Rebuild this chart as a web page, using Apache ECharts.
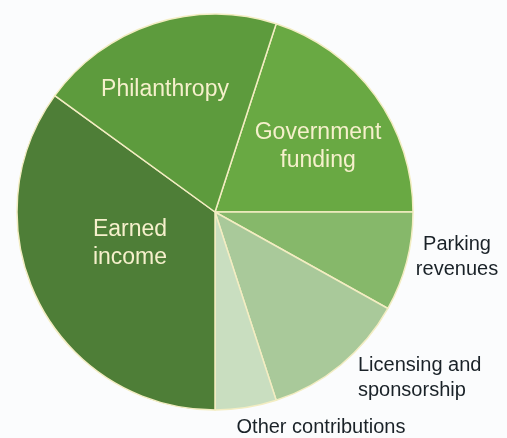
<!DOCTYPE html>
<html><head><meta charset="utf-8">
<script src="https://cdn.jsdelivr.net/npm/echarts@6/dist/echarts.min.js"></script>
<style>html,body{margin:0;padding:0;background:#fbfcfd;}#c{width:507px;height:438px;}</style>
</head><body><div id="c"></div>
<script>
const categories = ['Government\nfunding', 'Parking\nrevenues', 'Licensing and\nsponsorship', 'Other contributions', 'Earned\nincome', 'Philanthropy'];
const values = [20, 8.1, 11.9, 5, 35, 20];
const colors = ['#69a943', '#86b86a', '#a9c99a', '#c9dec0', '#4e7e37', '#5d9b3d'];
// label placement: [x, y, align, color, size]
const labelStyle = [
  [318, 147, 'center', '#f6f0cc', 23],
  [457, 257, 'center', '#1a2228', 20],
  [358, 378, 'left', '#1a2228', 20],
  [321, 427, 'center', '#1a2228', 20],
  [130, 244, 'center', '#f6f0cc', 23],
  [165, 90, 'center', '#f6f0cc', 23]
];
const chart = echarts.init(document.getElementById('c'));
chart.setOption({
  backgroundColor: '#fbfcfd',
  animation: false,
  series: [{
    type: 'pie',
    center: [215, 212],
    radius: 198,
    startAngle: 72,
    clockwise: true,
    label: { show: false },
    labelLine: { show: false },
    itemStyle: { borderColor: '#f3edc2', borderWidth: 1.5 },
    data: categories.map((n, i) => ({ name: n, value: values[i], itemStyle: { color: colors[i] } }))
  }],
  graphic: categories.map((n, i) => ({
    type: 'text',
    z: 100,
    zlevel: 1,
    x: labelStyle[i][0], y: labelStyle[i][1],
    style: {
      text: n, align: labelStyle[i][2], verticalAlign: 'middle',
      fill: labelStyle[i][3], fontSize: labelStyle[i][4],
      fontFamily: '"Liberation Sans", Arial, sans-serif', lineHeight: labelStyle[i][4] + 5
    }
  }))
});
</script></body></html>
